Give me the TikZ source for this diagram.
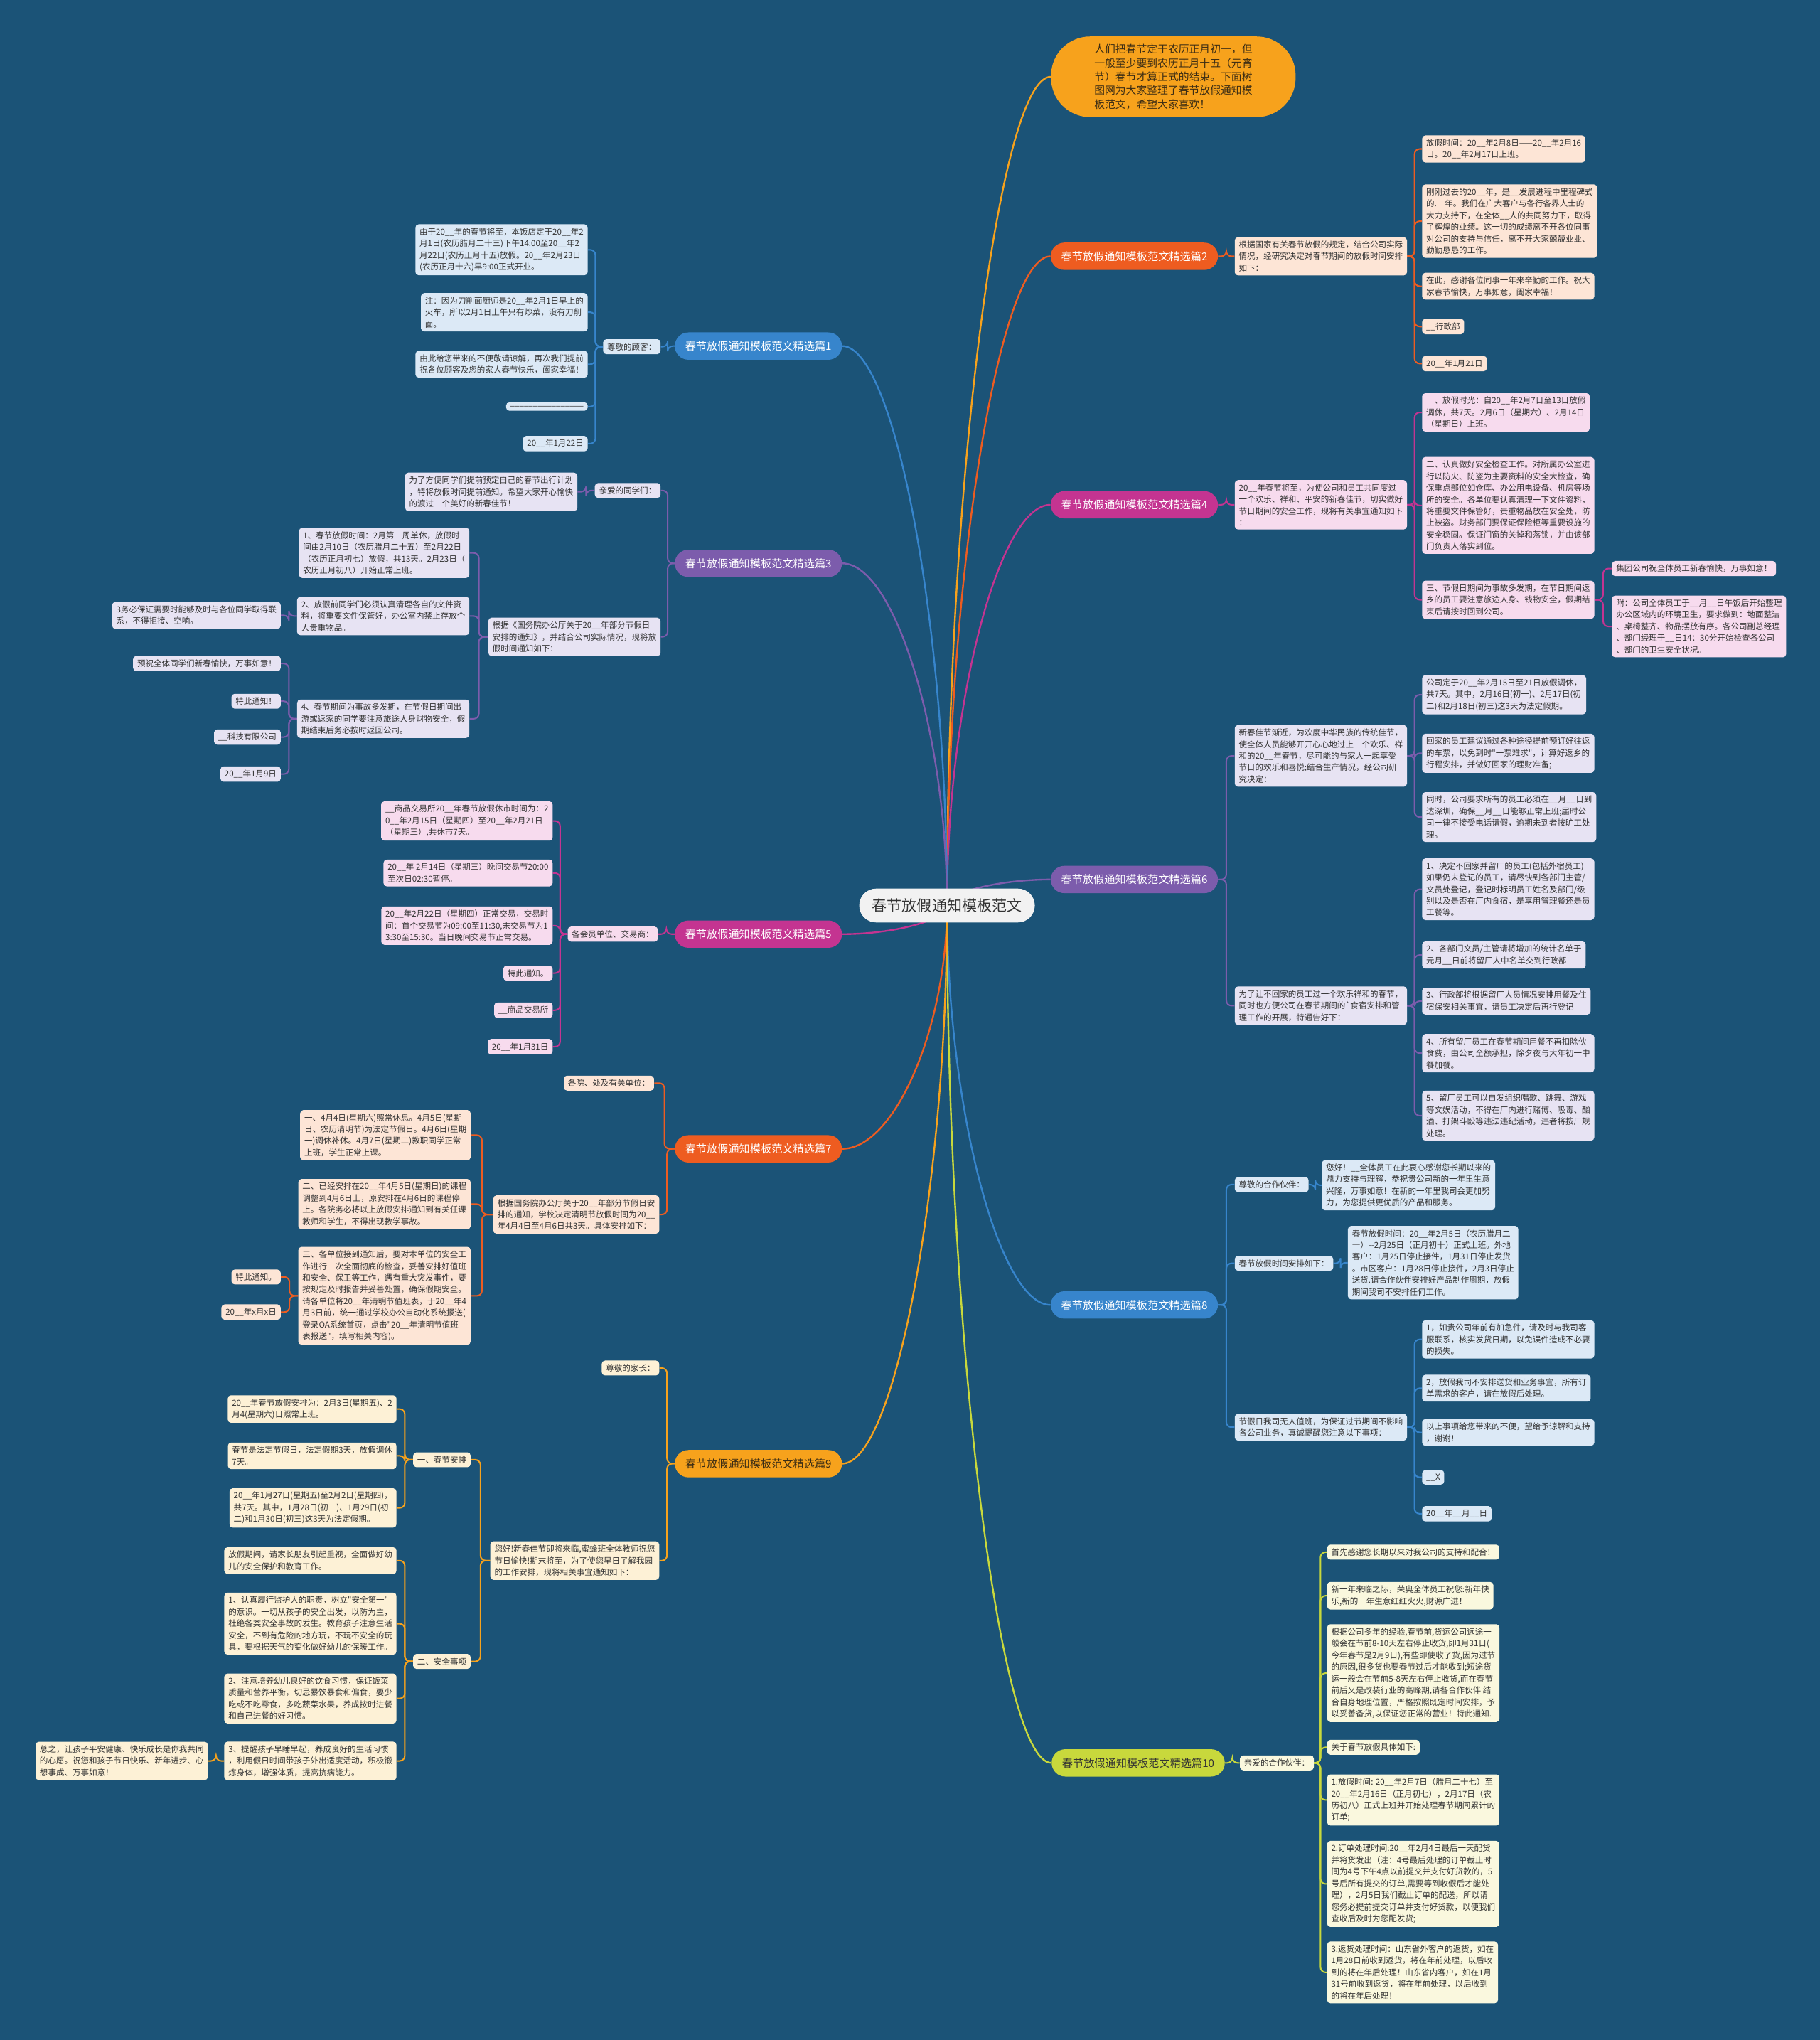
\documentclass[tikz,border=0pt]{standalone}
\usepackage{fontspec}
\newfontfamily\cjk{Noto Sans CJK SC}
\usetikzlibrary{calc,backgrounds}
\definecolor{bgc}{RGB}{27,83,119}
\definecolor{txtc}{RGB}{51,51,51}
\definecolor{cOr}{RGB}{238,92,32}
\definecolor{fOr}{RGB}{253,229,214}
\definecolor{cMg}{RGB}{196,52,145}
\definecolor{fMg}{RGB}{247,219,238}
\definecolor{cPu}{RGB}{124,92,172}
\definecolor{fPu}{RGB}{231,227,243}
\definecolor{cBl}{RGB}{55,133,204}
\definecolor{fBl}{RGB}{220,233,246}
\definecolor{cAm}{RGB}{247,162,28}
\definecolor{fAm}{RGB}{253,241,214}
\definecolor{cYg}{RGB}{200,216,60}
\definecolor{fYg}{RGB}{250,248,222}
\definecolor{tAm}{RGB}{60,45,20}
\definecolor{fCt}{RGB}{242,242,242}
\newcommand\bk{\_\_}
\tikzset{
  lf/.style={fill=#1, rounded corners=2.5pt, inner xsep=3.2pt, inner ysep=2.8pt, align=left,
     font={\cjk\fontsize{6.3}{9}\selectfont}, text=txtc},
  mainnode/.style={fill=#1, rounded corners=10.5pt, minimum width=128, minimum height=21,
     inner xsep=8pt, inner ysep=0pt, font={\cjk\fontsize{8.3}{10}\selectfont}, text=white},
  con/.style={draw=#1, line width=1.1pt, rounded corners=4pt},
  mcon/.style={draw=#1, line width=1.3pt},
}
\newcommand\linkR[3]{\draw[con=#1] (#2.east) -- ($(#2.east)!0.5!(#2.east -| #3.west)$) |- (#3.west);}
\newcommand\linkL[3]{\draw[con=#1] (#2.west) -- ($(#2.west)!0.5!(#2.west -| #3.east)$) |- (#3.east);}
\newcommand\linkC[3]{\draw[mcon=#1] (C.center) .. controls ($(C.center)!0.5!(C.center |- #2.#3)$) and ($(C.center |- #2.#3)!0.5!(#2.#3)$) .. (#2.#3);}
\begin{document}
\begin{tikzpicture}[x=1pt,y=-1pt]
\useasboundingbox (0,0) rectangle (1399,1568);

% center
\node[fill=fCt, rounded corners=13pt, minimum width=135, minimum height=26,
  font={\cjk\fontsize{11.5}{13}\selectfont}, text=txtc] (C) at (728,696) {春节放假通知模板范文};

% intro
\node[fill=cAm, rounded corners=30pt, minimum width=188, minimum height=62, align=left,
  font={\cjk\fontsize{8.1}{10.6}\selectfont}, text=tAm] (I) at (902,59)
  {人们把春节定于农历正月初一，但\\一般至少要到农历正月十五（元宵\\节）春节才算正式的结束。下面树\\图网为大家整理了春节放假通知模\\板范文，希望大家喜欢！};

% ===== main nodes =====
\node[mainnode=cOr] (M2) at (872,197) {春节放假通知模板范文精选篇2};
\node[mainnode=cMg] (M4) at (872,388) {春节放假通知模板范文精选篇4};
\node[mainnode=cPu] (M6) at (872,676) {春节放假通知模板范文精选篇6};
\node[mainnode=cBl] (M8) at (872,1003) {春节放假通知模板范文精选篇8};
\node[mainnode=cYg, text=txtc] (M10) at (875,1355) {春节放假通知模板范文精选篇10};
\node[mainnode=cBl] (M1) at (583,266) {春节放假通知模板范文精选篇1};
\node[mainnode=cPu] (M3) at (583,433) {春节放假通知模板范文精选篇3};
\node[mainnode=cMg] (M5) at (583,718) {春节放假通知模板范文精选篇5};
\node[mainnode=cOr] (M7) at (583,883) {春节放假通知模板范文精选篇7};
\node[mainnode=cAm, text=tAm] (M9) at (583,1125) {春节放假通知模板范文精选篇9};

% ===== 篇2 =====
\node[lf=fOr, anchor=west] (S2) at (949,197) {根据国家有关春节放假的规定，结合公司实际\\情况，经研究决定对春节期间的放假时间安排\\如下：};
\node[lf=fOr, anchor=west] (L2a) at (1093,114.5) {放假时间：20\bk{}年2月8日——20\bk{}年2月16\\日。20\bk{}年2月17日上班。};
\node[lf=fOr, anchor=west] (L2b) at (1093,170) {刚刚过去的20\bk{}年，是\bk{}发展进程中里程碑式\\的.一年。我们在广大客户与各行各界人士的\\大力支持下，在全体\bk{}人的共同努力下，取得\\了辉煌的业绩。这一切的成绩离不开各位同事\\对公司的支持与信任，离不开大家兢兢业业、\\勤勤恳恳的工作。};
\node[lf=fOr, anchor=west] (L2c) at (1093,220) {在此，感谢各位同事一年来辛勤的工作。祝大\\家春节愉快，万事如意，阖家幸福！};
\node[lf=fOr, anchor=west] (L2d) at (1093,251) {\bk{}行政部};
\node[lf=fOr, anchor=west] (L2e) at (1093,279.5) {20\bk{}年1月21日};

% ===== 篇4 =====
\node[lf=fMg, anchor=west] (S4) at (949,388) {20\bk{}年春节将至，为使公司和员工共同度过\\一个欢乐、祥和、平安的新春佳节，切实做好\\节日期间的安全工作，现将有关事宜通知如下\\：};
\node[lf=fMg, anchor=west] (L4a) at (1093,317) {一、放假时光：自20\bk{}年2月7日至13日放假\\调休，共7天。2月6日（星期六）、2月14日\\（星期日）上班。};
\node[lf=fMg, anchor=west] (L4b) at (1093,388.5) {二、认真做好安全检查工作。对所属办公室进\\行以防火、防盗为主要资料的安全大检查，确\\保重点部位如仓库、办公用电设备、机房等场\\所的安全。各单位要认真清理一下文件资料，\\将重要文件保管好，贵重物品放在安全处，防\\止被盗。财务部门要保证保险柜等重要设施的\\安全稳固。保证门窗的关掉和落锁，并由该部\\门负责人落实到位。};
\node[lf=fMg, anchor=west] (L4c) at (1093,461) {三、节假日期间为事故多发期，在节日期间返\\乡的员工要注意旅途人身、钱物安全，假期结\\束后请按时回到公司。};
\node[lf=fMg, anchor=west] (L4ca) at (1239,437) {集团公司祝全体员工新春愉快，万事如意！};
\node[lf=fMg, anchor=west] (L4cb) at (1239,481.5) {附：公司全体员工于\bk{}月\bk{}日午饭后开始整理\\办公区域内的环境卫生，要求做到：地面整洁\\、桌椅整齐、物品摆放有序。各公司副总经理\\、部门经理于\bk{}日14：30分开始检查各公司\\、部门的卫生安全状况。};

% ===== 篇6 =====
\node[lf=fPu, anchor=west] (S6a) at (949,581) {新春佳节渐近，为欢度中华民族的传统佳节，\\使全体人员能够开开心心地过上一个欢乐、祥\\和的20\bk{}年春节，尽可能的与家人一起享受\\节日的欢乐和喜悦;结合生产情况，经公司研\\究决定：};
\node[lf=fPu, anchor=west] (S6b) at (949,773) {为了让不回家的员工过一个欢乐祥和的春节，\\同时也方便公司在春节期间的`食宿安排和管\\理工作的开展，特通告好下：};
\node[lf=fPu, anchor=west] (L6a1) at (1093,534) {公司定于20\bk{}年2月15日至21日放假调休，\\共7天。其中，2月16日(初一)、2月17日(初\\二)和2月18日(初三)这3天为法定假期。};
\node[lf=fPu, anchor=west] (L6a2) at (1093,579) {回家的员工建议通过各种途径提前预订好往返\\的车票，以免到时"一票难求"，计算好返乡的\\行程安排，并做好回家的理财准备;};
\node[lf=fPu, anchor=west] (L6a3) at (1093,628) {同时，公司要求所有的员工必须在\bk{}月\bk{}日到\\达深圳，确保\bk{}月\bk{}日能够正常上班;届时公\\司一律不接受电话请假，逾期未到者按旷工处\\理。};
\node[lf=fPu, anchor=west] (L6b1) at (1093,683.5) {1、决定不回家并留厂的员工(包括外宿员工)\\如果仍未登记的员工，请尽快到各部门主管/\\文员处登记，登记时标明员工姓名及部门/级\\别以及是否在厂内食宿，是享用管理餐还是员\\工餐等。};
\node[lf=fPu, anchor=west] (L6b2) at (1093,734) {2、各部门文员/主管请将增加的统计名单于\\元月\bk{}日前将留厂人中名单交到行政部};
\node[lf=fPu, anchor=west] (L6b3) at (1093,769.5) {3、行政部将根据留厂人员情况安排用餐及住\\宿保安相关事宜，请员工决定后再行登记};
\node[lf=fPu, anchor=west] (L6b4) at (1093,809.5) {4、所有留厂员工在春节期间用餐不再扣除伙\\食费，由公司全额承担，除夕夜与大年初一中\\餐加餐。};
\node[lf=fPu, anchor=west] (L6b5) at (1093,857.5) {5、留厂员工可以自发组织唱歌、跳舞、游戏\\等文娱活动，不得在厂内进行赌博、吸毒、酗\\酒、打架斗殴等违法违纪活动，违者将按厂规\\处理。};

% ===== 篇8 =====
\node[lf=fBl, anchor=west] (S8a) at (949,910.5) {尊敬的合作伙伴：};
\node[lf=fBl, anchor=west] (L8a) at (1016,911) {您好！\bk{}全体员工在此衷心感谢您长期以来的\\鼎力支持与理解，恭祝贵公司新的一年里生意\\兴隆，万事如意！在新的一年里我司会更加努\\力，为您提供更优质的产品和服务。};
\node[lf=fBl, anchor=west] (S8b) at (949,971) {春节放假时间安排如下：};
\node[lf=fBl, anchor=west] (L8b) at (1036,970.5) {春节放假时间：20\bk{}年2月5日（农历腊月二\\十）-{}-2月25日（正月初十）正式上班。外地\\客户：1月25日停止接件，1月31日停止发货\\。市区客户：1月28日停止接件，2月3日停止\\送货.请合作伙伴安排好产品制作周期，放假\\期间我司不安排任何工作。};
\node[lf=fBl, anchor=west] (S8c) at (949,1097) {节假日我司无人值班，为保证过节期间不影响\\各公司业务，真诚提醒您注意以下事项：};
\node[lf=fBl, anchor=west] (L8c1) at (1093,1029.5) {1，如贵公司年前有加急件，请及时与我司客\\服联系，核实发货日期，以免误件造成不必要\\的损失。};
\node[lf=fBl, anchor=west] (L8c2) at (1093,1067) {2，放假我司不安排送货和业务事宜，所有订\\单需求的客户，请在放假后处理。};
\node[lf=fBl, anchor=west] (L8c3) at (1093,1101) {以上事项给您带来的不便，望给予谅解和支持\\，谢谢！};
\node[lf=fBl, anchor=west] (L8c4) at (1093,1135.5) {\bk{}X};
\node[lf=fBl, anchor=west] (L8c5) at (1093,1163.5) {20\bk{}年\bk{}月\bk{}日};

% ===== 篇10 =====
\node[lf=fYg, anchor=west] (S10) at (953,1355) {亲爱的合作伙伴：};
\node[lf=fYg, anchor=west] (L10a) at (1020,1193) {首先感谢您长期以来对我公司的支持和配合！};
\node[lf=fYg, anchor=west] (L10b) at (1020,1226.5) {新一年来临之际，荣奥全体员工祝您:新年快\\乐,新的一年生意红红火火,财源广进！};
\node[lf=fYg, anchor=west] (L10c) at (1020,1286) {根据公司多年的经验,春节前,货运公司远途一\\般会在节前8-10天左右停止收货,即1月31日(\\今年春节是2月9日),有些即使收了货,因为过节\\的原因,很多货也要春节过后才能收到;短途货\\运一般会在节前5-8天左右停止收货,而在春节\\前后又是改装行业的高峰期,请各合作伙伴 结\\合自身地理位置，严格按照既定时间安排，予\\以妥善备货,以保证您正常的营业！特此通知.};
\node[lf=fYg, anchor=west] (L10d) at (1020,1343) {关于春节放假具体如下:};
\node[lf=fYg, anchor=west] (L10e) at (1020,1383.5) {1.放假时间: 20\bk{}年2月7日（腊月二十七）至\\20\bk{}年2月16日（正月初七），2月17日（农\\历初八）正式上班并开始处理春节期间累计的\\订单;};
\node[lf=fYg, anchor=west] (L10f) at (1020,1448) {2.订单处理时间:20\bk{}年2月4日最后一天配货\\并将货发出（注：4号最后处理的订单截止时\\间为4号下午4点以前提交并支付好货款的，5\\号后所有提交的订单,需要等到收假后才能处\\理），2月5日我们截止订单的配送，所以请\\您务必提前提交订单并支付好货款，以便我们\\查收后及时为您配发货;};
\node[lf=fYg, anchor=west] (L10g) at (1020,1516) {3.返货处理时间：山东省外客户的返货，如在\\1月28日前收到返货，将在年前处理，以后收\\到的将在年后处理！山东省内客户，如在1月\\31号前收到返货，将在年前处理，以后收到\\的将在年后处理！};

% ===== 篇1 =====
\node[lf=fBl, anchor=east] (S1) at (508,266.5) {尊敬的顾客：};
\node[lf=fBl, anchor=east] (L1a) at (452,192) {由于20\bk{}年的春节将至，本饭店定于20\bk{}年2\\月1日(农历腊月二十三)下午14:00至20\bk{}年2\\月22日(农历正月十五)放假。20\bk{}年2月23日\\(农历正月十六)早9:00正式开业。};
\node[lf=fBl, anchor=east] (L1b) at (452,240) {注：因为刀削面厨师是20\bk{}年2月1日早上的\\火车，所以2月1日上午只有炒菜，没有刀削\\面。};
\node[lf=fBl, anchor=east] (L1c) at (452,280) {由此给您带来的不便敬请谅解，再次我们提前\\祝各位顾客及您的家人春节快乐，阖家幸福！};
\node[lf=fBl, anchor=east] (L1d) at (452,312.5) {\_\_\_\_\_\_\_\_\_\_\_\_\_\_\_\_};
\node[lf=fBl, anchor=east] (L1e) at (452,341) {20\bk{}年1月22日};

% ===== 篇3 =====
\node[lf=fPu, anchor=east] (S3a) at (508,377) {亲爱的同学们：};
\node[lf=fPu, anchor=east] (L3a) at (444,378) {为了方便同学们提前预定自己的春节出行计划\\，特将放假时间提前通知。希望大家开心愉快\\的渡过一个美好的新春佳节！};
\node[lf=fPu, anchor=east] (S3b) at (508,489.5) {根据《国务院办公厅关于20\bk{}年部分节假日\\安排的通知》，并结合公司实际情况，现将放\\假时间通知如下：};
\node[lf=fPu, anchor=east] (L3b1) at (361,425) {1、春节放假时间：2月第一周单休，放假时\\间由2月10日（农历腊月二十五）至2月22日\\（农历正月初七）放假，共13天。2月23日（\\农历正月初八）开始正常上班。};
\node[lf=fPu, anchor=east] (L3b2) at (361,473.5) {2、放假前同学们必须认真清理各自的文件资\\料，将重要文件保管好，办公室内禁止存放个\\人贵重物品。};
\node[lf=fPu, anchor=east] (L3b2a) at (216,473) {3务必保证需要时能够及时与各位同学取得联\\系，不得拒接、空响。};
\node[lf=fPu, anchor=east] (L3b3) at (361,552.5) {4、春节期间为事故多发期，在节假日期间出\\游或返家的同学要注意旅途人身财物安全，假\\期结束后务必按时返回公司。};
\node[lf=fPu, anchor=east] (L3b3a) at (216,510) {预祝全体同学们新春愉快，万事如意！};
\node[lf=fPu, anchor=east] (L3b3b) at (216,539) {特此通知！};
\node[lf=fPu, anchor=east] (L3b3c) at (216,566.5) {\bk{}科技有限公司};
\node[lf=fPu, anchor=east] (L3b3d) at (216,595) {20\bk{}年1月9日};

% ===== 篇5 =====
\node[lf=fMg, anchor=east] (S5) at (506,718) {各会员单位、交易商：};
\node[lf=fMg, anchor=east] (L5a) at (425,631) {\bk{}商品交易所20\bk{}年春节放假休市时间为：2\\0\bk{}年2月15日（星期四）至20\bk{}年2月21日\\（星期三）,共休市7天。};
\node[lf=fMg, anchor=east] (L5b) at (425,671) {20\bk{}年 2月14日（星期三）晚间交易节20:00\\至次日02:30暂停。};
\node[lf=fMg, anchor=east] (L5c) at (425,711.5) {20\bk{}年2月22日（星期四）正常交易，交易时\\间：首个交易节为09:00至11:30,末交易节为1\\3:30至15:30。当日晚间交易节正常交易。};
\node[lf=fMg, anchor=east] (L5d) at (425,748) {特此通知。};
\node[lf=fMg, anchor=east] (L5e) at (425,776.5) {\bk{}商品交易所};
\node[lf=fMg, anchor=east] (L5f) at (425,804.5) {20\bk{}年1月31日};

% ===== 篇7 =====
\node[lf=fOr, anchor=east] (S7a) at (503,832.5) {各院、处及有关单位：};
\node[lf=fOr, anchor=east] (S7b) at (507,933.5) {根据国务院办公厅关于20\bk{}年部分节假日安\\排的通知，学校决定清明节放假时间为20\bk{}\\年4月4日至4月6日共3天。具体安排如下：};
\node[lf=fOr, anchor=east] (L7a) at (362,872.5) {一、4月4日(星期六)照常休息。4月5日(星期\\日、农历清明节)为法定节假日。4月6日(星期\\一)调休补休。4月7日(星期二)教职同学正常\\上班，学生正常上课。};
\node[lf=fOr, anchor=east] (L7b) at (362,925.5) {二、已经安排在20\bk{}年4月5日(星期日)的课程\\调整到4月6日上，原安排在4月6日的课程停\\上。各院务必将以上放假安排通知到有关任课\\教师和学生，不得出现教学事故。};
\node[lf=fOr, anchor=east] (L7c) at (362,996) {三、各单位接到通知后，要对本单位的安全工\\作进行一次全面彻底的检查，妥善安排好值班\\和安全、保卫等工作，遇有重大突发事件，要\\按规定及时报告并妥善处置，确保假期安全。\\请各单位将20\bk{}年清明节值班表，于20\bk{}年4\\月3日前，统一通过学校办公自动化系统报送(\\登录OA系统首页，点击"20\bk{}年清明节值班\\表报送"，填写相关内容)。};
\node[lf=fOr, anchor=east] (L7ca) at (216,981.5) {特此通知。};
\node[lf=fOr, anchor=east] (L7cb) at (216,1008.5) {20\bk{}年x月x日};

% ===== 篇9 =====
\node[lf=fAm, anchor=east] (S9a) at (507,1051.5) {尊敬的家长：};
\node[lf=fAm, anchor=east] (S9b) at (507,1199.5) {您好!新春佳节即将来临,蜜蜂班全体教师祝您\\节日愉快!期末将至，为了使您早日了解我园\\的工作安排，现将相关事宜通知如下：};
\node[lf=fAm, anchor=east] (T1) at (362,1122) {一、春节安排};
\node[lf=fAm, anchor=east] (T2) at (362,1277) {二、安全事项};
\node[lf=fAm, anchor=east] (L9a1) at (305,1083) {20\bk{}年春节放假安排为：2月3日(星期五)、2\\月4(星期六)日照常上班。};
\node[lf=fAm, anchor=east] (L9a2) at (305,1119) {春节是法定节假日，法定假期3天，放假调休\\7天。};
\node[lf=fAm, anchor=east] (L9a3) at (305,1159) {20\bk{}年1月27日(星期五)至2月2日(星期四)，\\共7天。其中，1月28日(初一)、1月29日(初\\二)和1月30日(初三)这3天为法定假期。};
\node[lf=fAm, anchor=east] (L9b1) at (305,1199.5) {放假期间，请家长朋友引起重视，全面做好幼\\儿的安全保护和教育工作。};
\node[lf=fAm, anchor=east] (L9b2) at (305,1248) {1、认真履行监护人的职责，树立"安全第一"\\的意识。一切从孩子的安全出发，以防为主，\\杜绝各类安全事故的发生。教育孩子注意生活\\安全，不到有危险的地方玩，不玩不安全的玩\\具，要根据天气的变化做好幼儿的保暖工作。};
\node[lf=fAm, anchor=east] (L9b3) at (305,1305.5) {2、注意培养幼儿良好的饮食习惯，保证饭菜\\质量和营养平衡，切忌暴饮暴食和偏食，要少\\吃或不吃零食，多吃蔬菜水果，养成按时进餐\\和自己进餐的好习惯。};
\node[lf=fAm, anchor=east] (L9b4) at (305,1353.5) {3、提醒孩子早睡早起，养成良好的生活习惯\\，利用假日时间带孩子外出适度活动，积极锻\\炼身体，增强体质，提高抗病能力。};
\node[lf=fAm, anchor=east] (L9b4a) at (160,1353.5) {总之，让孩子平安健康、快乐成长是你我共同\\的心愿。祝您和孩子节日快乐、新年进步、心\\想事成、万事如意！};

% ===== connectors =====
\begin{pgfonlayer}{background}
\fill[bgc] (0,0) rectangle (1399,1568);
\linkC{cAm}{I}{west}
\linkC{cOr}{M2}{west}
\linkC{cMg}{M4}{west}
\linkC{cPu}{M6}{west}
\linkC{cBl}{M8}{west}
\linkC{cYg}{M10}{west}
\linkC{cBl}{M1}{east}
\linkC{cPu}{M3}{east}
\linkC{cMg}{M5}{east}
\linkC{cOr}{M7}{east}
\linkC{cAm}{M9}{east}
% 2
\linkR{cOr}{M2}{S2}
\foreach \n in {L2a,L2b,L2c,L2d,L2e} {\linkR{cOr}{S2}{\n}}
% 4
\linkR{cMg}{M4}{S4}
\foreach \n in {L4a,L4b,L4c} {\linkR{cMg}{S4}{\n}}
\foreach \n in {L4ca,L4cb} {\linkR{cMg}{L4c}{\n}}
% 6
\foreach \n in {S6a,S6b} {\linkR{cPu}{M6}{\n}}
\foreach \n in {L6a1,L6a2,L6a3} {\linkR{cPu}{S6a}{\n}}
\foreach \n in {L6b1,L6b2,L6b3,L6b4,L6b5} {\linkR{cPu}{S6b}{\n}}
% 8
\foreach \n in {S8a,S8b,S8c} {\linkR{cBl}{M8}{\n}}
\linkR{cBl}{S8a}{L8a}
\linkR{cBl}{S8b}{L8b}
\foreach \n in {L8c1,L8c2,L8c3,L8c4,L8c5} {\linkR{cBl}{S8c}{\n}}
% 10
\linkR{cYg}{M10}{S10}
\foreach \n in {L10a,L10b,L10c,L10d,L10e,L10f,L10g} {\linkR{cYg}{S10}{\n}}
% 1
\linkL{cBl}{M1}{S1}
\foreach \n in {L1a,L1b,L1c,L1d,L1e} {\linkL{cBl}{S1}{\n}}
% 3
\foreach \n in {S3a,S3b} {\linkL{cPu}{M3}{\n}}
\linkL{cPu}{S3a}{L3a}
\foreach \n in {L3b1,L3b2,L3b3} {\linkL{cPu}{S3b}{\n}}
\linkL{cPu}{L3b2}{L3b2a}
\foreach \n in {L3b3a,L3b3b,L3b3c,L3b3d} {\linkL{cPu}{L3b3}{\n}}
% 5
\linkL{cMg}{M5}{S5}
\foreach \n in {L5a,L5b,L5c,L5d,L5e,L5f} {\linkL{cMg}{S5}{\n}}
% 7
\foreach \n in {S7a,S7b} {\linkL{cOr}{M7}{\n}}
\foreach \n in {L7a,L7b,L7c} {\linkL{cOr}{S7b}{\n}}
\foreach \n in {L7ca,L7cb} {\linkL{cOr}{L7c}{\n}}
% 9
\foreach \n in {S9a,S9b} {\linkL{cAm}{M9}{\n}}
\foreach \n in {T1,T2} {\linkL{cAm}{S9b}{\n}}
\foreach \n in {L9a1,L9a2,L9a3} {\linkL{cAm}{T1}{\n}}
\foreach \n in {L9b1,L9b2,L9b3,L9b4} {\linkL{cAm}{T2}{\n}}
\linkL{cAm}{L9b4}{L9b4a}
\end{pgfonlayer}
\end{tikzpicture}
\end{document}
